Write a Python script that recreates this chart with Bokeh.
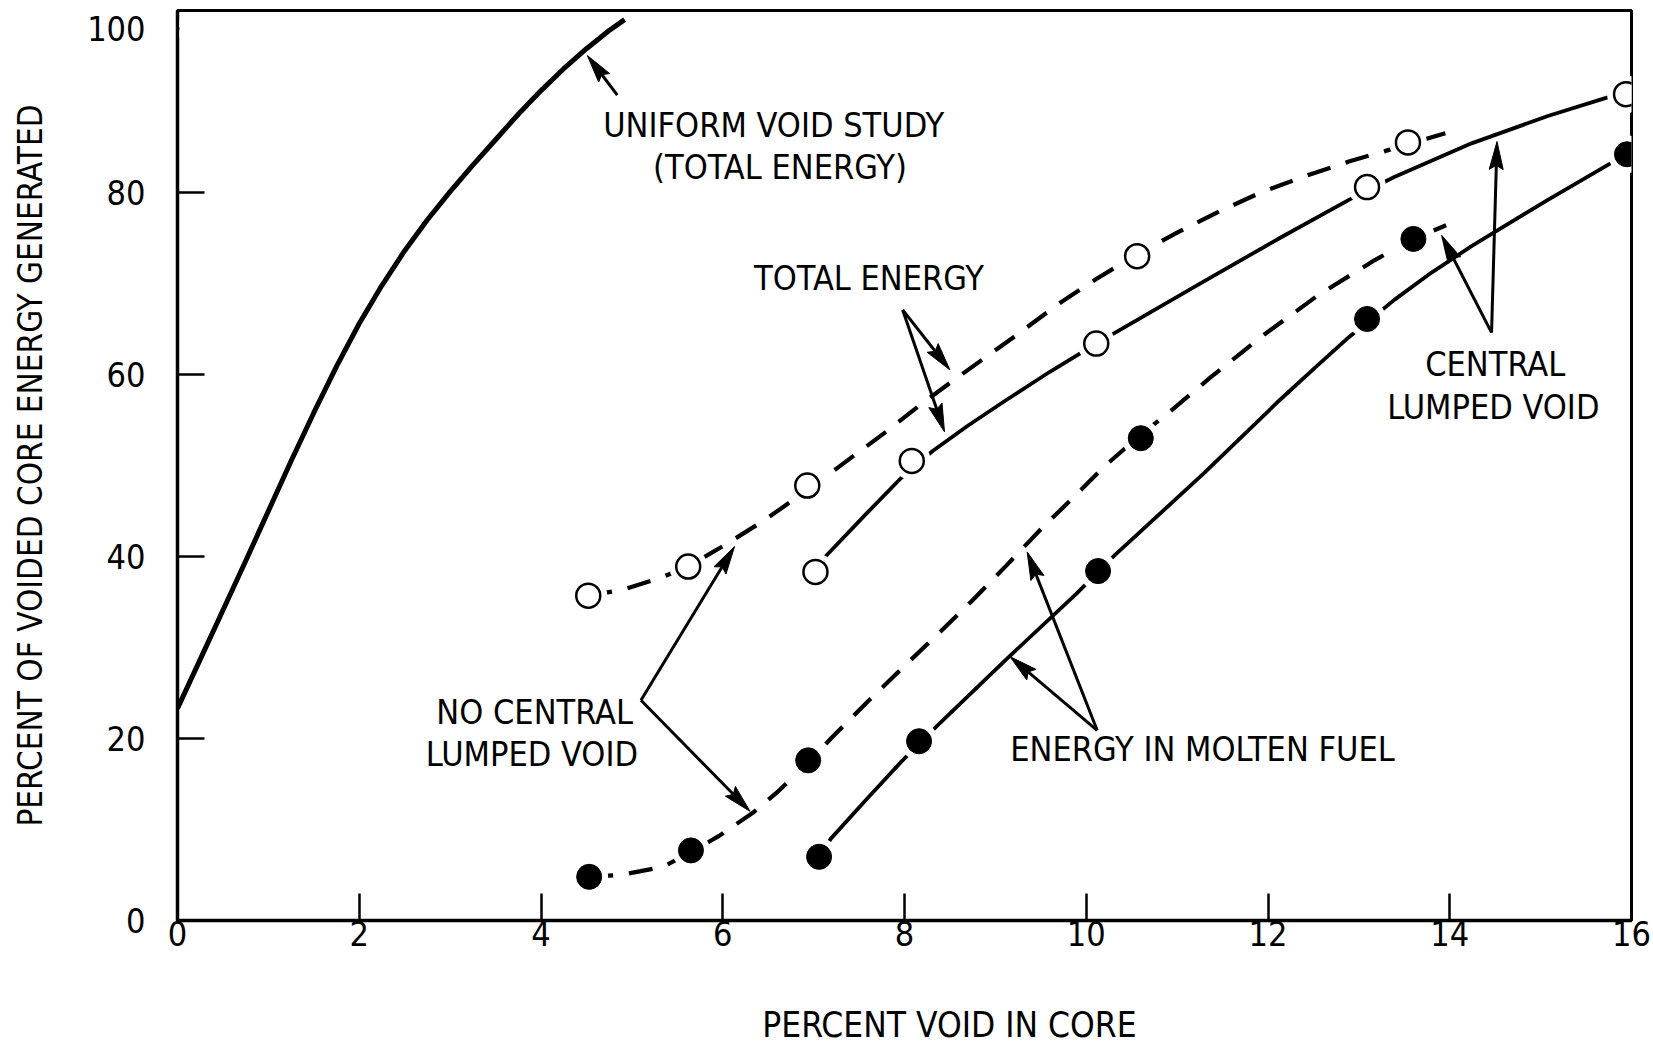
import math
from bokeh.plotting import figure
from bokeh.models import Range1d, Label, FixedTicker, BoxAnnotation
from bokeh.embed import file_html
from bokeh.resources import INLINE

# ---------------- data ----------------
X_TICKS = [0, 2, 4, 6, 8, 10, 12, 14, 16]
Y_TICKS = [0, 20, 40, 60, 80]
Y_TOP_LABEL = "100"

# uniform void study (total energy) curve
uniform_x = [0, 0.25, 0.5, 0.75, 1.0, 1.25, 1.5, 1.75, 2.0, 2.25, 2.5, 2.75, 3.0, 3.25,
             3.5, 3.75, 4.0, 4.25, 4.5, 4.75, 4.92]
uniform_y = [23.3, 28.7, 34.1, 39.5, 45.0, 50.5, 55.8, 60.9, 65.6, 69.8, 73.6, 77.0, 80.1,
             83.0, 85.8, 88.6, 91.2, 93.6, 95.8, 97.8, 99.0]

# no central lumped void, total energy (dashed, open circles)
nc_total_curve_x = [4.52, 4.88, 5.30, 5.62, 6.03, 6.46, 6.93, 7.27, 7.77, 8.19, 8.6, 9.2,
                    9.73, 10.11, 10.56, 11.0, 11.46, 11.92, 12.38, 12.89, 13.27, 13.54, 13.98]
nc_total_curve_y = [35.7, 36.3, 37.6, 38.9, 41.3, 44.0, 47.3, 49.8, 53.5, 56.8, 59.8, 64.1,
                    68.0, 70.5, 73.2, 75.6, 77.9, 80.0, 81.7, 83.4, 84.5, 85.3, 86.6]
nc_total_pts_x = [4.52, 5.62, 6.93, 10.56, 13.54]
nc_total_pts_y = [35.7, 38.9, 47.8, 73.0, 85.5]

# central lumped void, total energy (solid, open circles)
cl_total_curve_x = [7.02, 7.13, 7.57, 7.96, 8.31, 8.7, 9.12, 9.6, 10.11, 10.7, 11.29, 12.13,
                    12.93, 13.39, 14.24, 15.08, 15.72, 15.94]
cl_total_curve_y = [38.3, 40.0, 44.6, 48.6, 51.6, 54.4, 57.2, 60.3, 63.4, 66.8, 70.2, 75.0,
                    79.4, 81.7, 85.4, 88.4, 90.4, 91.0]
cl_total_pts_x = [7.02, 8.08, 10.11, 13.09, 15.94]
cl_total_pts_y = [38.3, 50.5, 63.4, 80.6, 90.8]

# no central lumped void, energy in molten fuel (dashed, filled circles)
nc_molten_curve_x = [4.53, 4.88, 5.34, 5.65, 5.96, 6.34, 6.61, 6.94, 7.19, 7.58, 7.96, 8.35,
                     8.73, 9.12, 9.5, 9.89, 10.2, 10.6, 10.87, 11.37, 11.96, 12.55, 13.18,
                     13.6, 13.96]
nc_molten_curve_y = [4.8, 5.0, 5.9, 7.5, 9.3, 11.9, 14.2, 17.3, 20.0, 23.9, 27.6, 31.3,
                     35.0, 39.0, 43.0, 46.8, 49.9, 53.4, 55.5, 59.7, 64.4, 68.7, 72.6,
                     74.9, 76.4]
nc_molten_pts_x = [4.53, 5.65, 6.94, 10.60, 13.60]
nc_molten_pts_y = [4.8, 7.7, 17.6, 53.0, 74.9]

# central lumped void, energy in molten fuel (solid, filled circles)
cl_molten_curve_x = [7.06, 7.19, 7.58, 7.96, 8.35, 9.12, 9.89, 10.32, 11.29, 12.13, 12.5,
                     12.89, 13.39, 13.8, 14.24, 15.08, 15.75, 15.95]
cl_molten_curve_y = [7.0, 9.0, 13.3, 17.4, 21.3, 28.7, 35.9, 40.2, 49.1, 57.2, 60.6,
                     64.1, 68.2, 71.2, 74.1, 79.2, 83.1, 84.2]
cl_molten_pts_x = [7.06, 8.16, 10.13, 13.09, 15.95]
cl_molten_pts_y = [7.0, 19.7, 38.4, 66.1, 84.2]

# annotations
ANNOT_TEXT = ["UNIFORM VOID STUDY", "(TOTAL ENERGY)", "TOTAL ENERGY", "CENTRAL",
              "LUMPED VOID", "NO CENTRAL", "LUMPED VOID", "ENERGY IN MOLTEN FUEL"]
ANNOT_X = [6.56, 6.63, 7.61, 14.50, 14.48, 3.93, 3.90, 11.28]
ANNOT_Y = [87.4, 82.8, 70.6, 61.2, 56.4, 22.9, 18.3, 18.8]

# leader arrows: tail -> tip
ARROW_TAIL_X = [4.84, 7.98, 7.98, 14.46, 14.46, 5.10, 5.10, 10.12, 10.12]
ARROW_TAIL_Y = [90.7, 67.1, 67.1, 64.6, 64.6, 24.2, 24.2, 20.9, 20.9]
ARROW_TIP_X = [4.51, 8.50, 8.44, 14.52, 13.91, 6.13, 6.30, 9.35, 9.16]
ARROW_TIP_Y = [95.05, 60.5, 53.7, 85.6, 75.3, 41.1, 12.0, 40.5, 29.0]

X_TITLE = "PERCENT VOID IN CORE"
Y_TITLE = "PERCENT OF VOIDED CORE ENERGY GENERATED"

# ---------------- layout ----------------
FONT = "Liberation Sans Narrow, DejaVu Sans Condensed, Liberation Sans, sans-serif"
W, H = 1653, 1047
FL, FR, FT, FB = 177, 1631, 10, 920
SX = (FR - FL) / 16.0   # px per x unit
SY = (FB - FT) / 100.0  # px per y unit
TOP_LABEL_Y = 98        # the "100" label sits a little below the frame corner

p = figure(width=W, height=H, x_range=Range1d(0, 16), y_range=Range1d(0, 100),
           output_backend="svg", toolbar_location=None,
           min_border_left=FL, min_border_right=W - FR,
           min_border_top=FT, min_border_bottom=H - FB)
p.background_fill_color = "white"
p.border_fill_color = "white"
p.outline_line_color = "black"
p.outline_line_width = 3
p.grid.visible = False

for ax in (p.xaxis[0], p.yaxis[0]):
    ax.axis_line_width = 3.5
    ax.axis_line_color = "black"
    ax.major_tick_in = 27
    ax.major_tick_out = 0
    ax.major_tick_line_width = 2.5
    ax.major_tick_line_color = "black"
    ax.minor_tick_line_color = None
    ax.major_label_text_font = FONT
    ax.major_label_text_font_size = "34px"
    ax.major_label_text_color = "black"
    ax.axis_label_text_font = FONT
    ax.axis_label_text_font_style = "normal"
    ax.axis_label_text_color = "black"

p.xaxis.ticker = FixedTicker(ticks=X_TICKS)
p.yaxis.ticker = FixedTicker(ticks=Y_TICKS + [TOP_LABEL_Y])
p.yaxis.major_label_overrides = {TOP_LABEL_Y: Y_TOP_LABEL}
p.xaxis.major_label_standoff = 0
p.yaxis.major_label_standoff = 32

# x title: shifted right of the frame centre as in the original
p.xaxis.axis_label = "\u00a0" * 9 + X_TITLE
p.xaxis.axis_label_text_font_size = "35px"
p.xaxis.axis_label_standoff = 56
p.yaxis.axis_label = Y_TITLE
p.yaxis.axis_label_text_font_size = "33px"
p.yaxis.axis_label_standoff = 34

# hide the tick mark that carries the "100" label
p.add_layout(BoxAnnotation(left=0.022, right=0.45, bottom=97.0, top=99.0,
                           fill_color="white", fill_alpha=1.0, line_color=None, line_alpha=0))

# ---------------- curves ----------------
p.line(uniform_x, uniform_y, line_color="black", line_width=5)
p.line(nc_total_curve_x, nc_total_curve_y, line_color="black", line_width=4.2, line_dash="24 16")
p.line(cl_total_curve_x, cl_total_curve_y, line_color="black", line_width=3.8)
p.line(nc_molten_curve_x, nc_molten_curve_y, line_color="black", line_width=4.2, line_dash="24 16")
p.line(cl_molten_curve_x, cl_molten_curve_y, line_color="black", line_width=3.8)

# white halos (gaps in the curves around the points)
for xs, ys in ((nc_total_pts_x, nc_total_pts_y), (cl_total_pts_x, cl_total_pts_y),
               (nc_molten_pts_x, nc_molten_pts_y), (cl_molten_pts_x, cl_molten_pts_y)):
    p.scatter(xs, ys, size=38, fill_color="white", line_color=None)

# markers
p.scatter(nc_total_pts_x, nc_total_pts_y, size=24, fill_color="white", line_color="black", line_width=2.5)
p.scatter(cl_total_pts_x, cl_total_pts_y, size=24, fill_color="white", line_color="black", line_width=2.5)
p.scatter(nc_molten_pts_x, nc_molten_pts_y, size=25, fill_color="black", line_color="black")
p.scatter(cl_molten_pts_x, cl_molten_pts_y, size=25, fill_color="black", line_color="black")

# ---------------- leader arrows ----------------
HEAD_L, HEAD_W = 28.0, 14.0
seg_xs, seg_ys, head_xs, head_ys = [], [], [], []
for x0, y0, x1, y1 in zip(ARROW_TAIL_X, ARROW_TAIL_Y, ARROW_TIP_X, ARROW_TIP_Y):
    dx, dy = (x1 - x0) * SX, (y1 - y0) * SY
    n = math.hypot(dx, dy)
    ux, uy = dx / n, dy / n
    nx, ny = -uy, ux
    bx, by = -HEAD_L * ux, -HEAD_L * uy
    mx, my = -0.85 * HEAD_L * ux, -0.85 * HEAD_L * uy
    hx = [x1, x1 + (bx + nx * HEAD_W / 2) / SX, x1 + mx / SX, x1 + (bx - nx * HEAD_W / 2) / SX]
    hy = [y1, y1 + (by + ny * HEAD_W / 2) / SY, y1 + my / SY, y1 + (by - ny * HEAD_W / 2) / SY]
    head_xs.append(hx)
    head_ys.append(hy)
    seg_xs.append([x0, x1 + mx / SX])
    seg_ys.append([y0, y1 + my / SY])
p.multi_line(seg_xs, seg_ys, line_color="black", line_width=3)
p.patches(head_xs, head_ys, fill_color="black", line_color="black", line_width=1)

# ---------------- texts ----------------
for t, x, y in zip(ANNOT_TEXT, ANNOT_X, ANNOT_Y):
    p.add_layout(Label(x=x, y=y, text=t, text_font=FONT, text_font_size="34px",
                       text_align="center", text_baseline="middle", text_color="black"))

open("out.html", "w").write(file_html(p, INLINE))
